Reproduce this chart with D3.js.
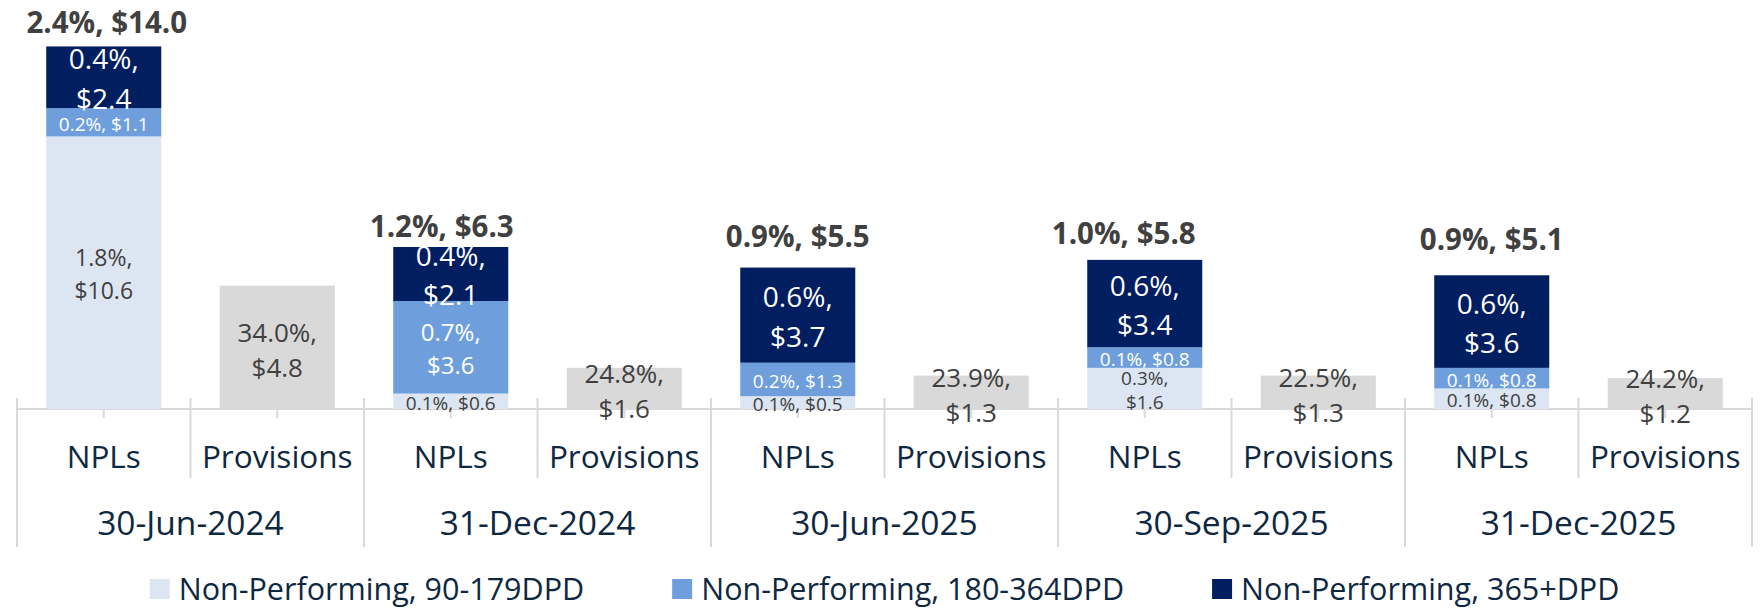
<!DOCTYPE html>
<html>
<head>
<meta charset="utf-8">
<script src="https://cdn.jsdelivr.net/npm/d3@7"></script>
<style>
  body { margin: 0; background: #fff; }
  svg { display: block; font-family: 'Open Sans', sans-serif; }
</style>
</head>
<body>
<div id="chart"></div>
<script>
// chart values
const dates = ['30-Jun-2024', '31-Dec-2024', '30-Jun-2025', '30-Sep-2025', '31-Dec-2025']
const subCats = ['NPLs', 'Provisions']

const npl90 = [10.6, 0.6, 0.5, 1.6, 0.8]
const npl90Pct = ['1.8%', '0.1%', '0.1%', '0.3%', '0.1%']
const npl180 = [1.1, 3.6, 1.3, 0.8, 0.8]
const npl180Pct = ['0.2%', '0.7%', '0.2%', '0.1%', '0.1%']
const npl365 = [2.4, 2.1, 3.7, 3.4, 3.6]
const npl365Pct = ['0.4%', '0.4%', '0.6%', '0.6%', '0.6%']
const nplTotal = [14.0, 6.3, 5.5, 5.8, 5.1]
const nplTotalPct = ['2.4%', '1.2%', '0.9%', '1.0%', '0.9%']
const provisions = [4.8, 1.6, 1.3, 1.3, 1.2]
const provisionsPct = ['34.0%', '24.8%', '23.9%', '22.5%', '24.2%']

const seriesNames = ['Non-Performing, 90-179DPD', 'Non-Performing, 180-364DPD', 'Non-Performing, 365+DPD']

// styling
const width = 1762
const height = 611
const left = 17
const right = 1752
const baseY = 409

const gridColor = '#d9d9d9'
const axisText = '#0e2841'
const valueText = '#404040'
const colors = { d90: '#dce5f2', d180: '#6e9fdc', d365: '#001e60' }
const provColor = '#d9d9d9'

// hand placed total labels in the original
const totalLift = [24, 20, 31, 26, 36]
const totalShift = [3, -9, 0, -21, 0]

const svg = d3.select('#chart').append('svg')
  .attr('width', width)
  .attr('height', height)

const slotKeys = dates.flatMap(d => subCats.map(s => d + '|' + s))

const x = d3.scaleBand()
  .domain(slotKeys)
  .range([left, right])
  .paddingInner(0.337)
  .paddingOuter(0.337 / 2)

const y = d3.scaleLinear()
  .domain([0, 14])
  .range([baseY, 49])

const step = x.step()

// axis: ticks at each slot centre + sub labels
const axis = svg.append('g')
  .attr('transform', `translate(0,${baseY})`)
  .call(d3.axisBottom(x).tickSize(9).tickFormat(k => k.split('|')[1]))

axis.select('.domain').remove()
axis.selectAll('.tick line').attr('stroke', gridColor).attr('stroke-width', 2)
axis.selectAll('.tick text')
  .attr('y', 48)
  .attr('dy', '0.35em')
  .attr('fill', axisText)
  .style('font-size', '31.5px')
  .style('font-family', "'Open Sans', sans-serif")

svg.append('line')
  .attr('x1', left).attr('x2', right)
  .attr('y1', baseY).attr('y2', baseY)
  .attr('stroke', gridColor)
  .attr('stroke-width', 2)

// dividers between slots, longer ones between dates
svg.append('g').selectAll('line')
  .data(d3.range(slotKeys.length + 1))
  .join('line')
  .attr('x1', i => left + i * step)
  .attr('x2', i => left + i * step)
  .attr('y1', baseY - 11)
  .attr('y2', i => i % 2 === 0 ? 547 : 478)
  .attr('stroke', gridColor)
  .attr('stroke-width', 2)

svg.append('g').selectAll('text')
  .data(dates)
  .join('text')
  .attr('x', (d, i) => left + (2 * i + 1) * step)
  .attr('y', 523)
  .attr('dy', '0.35em')
  .attr('text-anchor', 'middle')
  .attr('fill', axisText)
  .style('font-size', '33.5px')
  .text(d => d)

// stacked NPL bars
const nplRows = dates.map((d, i) => ({
  date: d, i,
  d90: npl90[i], d180: npl180[i], d365: npl365[i]
}))
const pctByKey = { d90: npl90Pct, d180: npl180Pct, d365: npl365Pct }

const stacked = d3.stack().keys(['d90', 'd180', 'd365'])(nplRows)

const barsG = svg.append('g')
const labelsG = svg.append('g')

stacked.forEach(layer => {
  barsG.selectAll(null)
    .data(layer)
    .join('rect')
    .attr('x', d => x(d.data.date + '|NPLs'))
    .attr('width', x.bandwidth())
    .attr('y', d => y(d[1]))
    .attr('height', d => y(d[0]) - y(d[1]))
    .attr('fill', colors[layer.key])
})

function segStyle (key, v) {
  if (key === 'd365') return { size: 28, two: true, lh: 1.4, color: '#fff' }
  if (key === 'd180') return v >= 2 ? { size: 24, two: true, lh: 1.35, color: '#fff' } : { size: 19, two: false, color: '#fff' }
  if (v >= 5) return { size: 23, two: true, lh: 1.45, color: valueText }
  if (v >= 1.5) return { size: 19, two: true, lh: 1.3, color: valueText }
  return { size: 19, two: false, color: valueText }
}

function drawLabel (cx, cy, l1, l2, st, weight) {
  const t = labelsG.append('text')
    .attr('text-anchor', 'middle')
    .attr('fill', st.color)
    .style('font-size', st.size + 'px')
    .style('font-weight', weight || 400)
  if (st.two) {
    const half = st.lh * st.size / 2
    t.append('tspan').attr('x', cx).attr('y', cy - half).attr('dy', '0.35em').text(l1)
    t.append('tspan').attr('x', cx).attr('y', cy + half).attr('dy', '0.35em').text(l2)
  } else {
    t.attr('x', cx).attr('y', cy).attr('dy', '0.35em').text(l1 + ' ' + l2)
  }
}

stacked.forEach(layer => {
  layer.forEach(d => {
    const i = d.data.i
    const v = d.data[layer.key]
    const cx = x(d.data.date + '|NPLs') + x.bandwidth() / 2
    const cy = (y(d[0]) + y(d[1])) / 2 + 2
    drawLabel(cx, cy, pctByKey[layer.key][i] + ',', '$' + v.toFixed(1), segStyle(layer.key, v))
  })
})

// totals above NPL bars
nplRows.forEach((d, i) => {
  const top = y(d.d90 + d.d180 + d.d365)
  const cx = x(d.date + '|NPLs') + x.bandwidth() / 2 + totalShift[i]
  drawLabel(cx, top - totalLift[i], nplTotalPct[i] + ',', '$' + nplTotal[i].toFixed(1),
    { size: 29.5, two: false, color: valueText }, 700)
})

// provisions bars
barsG.selectAll('.prov')
  .data(provisions)
  .join('rect')
  .attr('class', 'prov')
  .attr('x', (d, i) => x(dates[i] + '|Provisions'))
  .attr('width', x.bandwidth())
  .attr('y', d => y(d))
  .attr('height', d => baseY - y(d))
  .attr('fill', provColor)

provisions.forEach((v, i) => {
  const cx = x(dates[i] + '|Provisions') + x.bandwidth() / 2
  const cy = (y(v) + baseY) / 2 + 3
  drawLabel(cx, cy, provisionsPct[i] + ',', '$' + v.toFixed(1),
    { size: 26, two: true, lh: 1.35, color: valueText })
})

// legend
const legend = svg.append('g')
const legendColors = [colors.d90, colors.d180, colors.d365]
const legendGap = 88
let lx = 0
seriesNames.forEach((name, i) => {
  const g = legend.append('g')
  g.append('rect')
    .attr('x', 0).attr('y', -10)
    .attr('width', 20).attr('height', 20)
    .attr('fill', legendColors[i])
  const t = g.append('text')
    .attr('x', 29)
    .attr('dy', '0.35em')
    .attr('fill', axisText)
    .style('font-size', '30.5px')
    .text(name)
  const w = 29 + t.node().getComputedTextLength()
  g.attr('transform', `translate(${lx},0)`)
  lx += w + legendGap
})
const legendWidth = lx - legendGap
legend.attr('transform', `translate(${(left + right) / 2 - legendWidth / 2},589)`)
</script>
</body>
</html>
